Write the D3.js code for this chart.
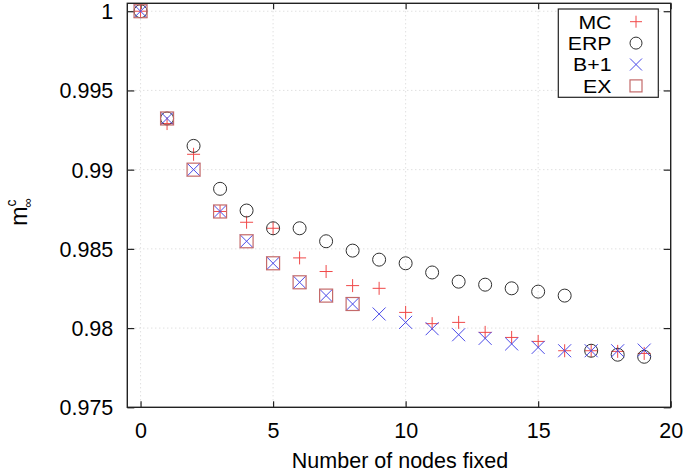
<!DOCTYPE html>
<html><head><meta charset="utf-8">
<script src="https://cdn.jsdelivr.net/npm/d3@7"></script>
<style>body{margin:0;background:#fff}svg{display:block}text{font-family:"Liberation Sans",Arial,sans-serif}</style>
</head><body><svg id="c" width="688" height="473"></svg>
<script>
const nodes = d3.range(0, 20);
const mc  = [1, 0.99291, 0.99097, 0.98736, 0.98668, 0.98630, 0.98443, 0.98357, 0.98268, 0.98251, 0.98099, 0.98028, 0.98036, 0.97973, 0.97941, 0.97916, 0.97857, 0.97857, 0.97853, 0.97840];
const erp = [1, 0.99323, 0.99150, 0.98879, 0.98742, 0.98630, 0.98630, 0.98548, 0.98489, 0.98432, 0.98409, 0.98351, 0.98293, 0.98274, 0.98251, 0.98230, 0.98205, 0.97857, 0.97832, 0.97819];
const b1  = [1, 0.99323, 0.99000, 0.98736, 0.98548, 0.98409, 0.98289, 0.98205, 0.98152, 0.98089, 0.98036, 0.97996, 0.97958, 0.97935, 0.97900, 0.97878, 0.97857, 0.97857, 0.97857, 0.97861];
const ex  = [1, 0.99323, 0.99000, 0.98736, 0.98548, 0.98409, 0.98289, 0.98205, 0.98152];
const xTicks = [0, 5, 10, 15, 20];
const yTicks = [0.975, 0.98, 0.985, 0.99, 0.995, 1];
const yTickLabels = ["0.975", "0.98", "0.985", "0.99", "0.995", "1"];
const seriesNames = ["MC", "ERP", "B+1", "EX"];

const svg = d3.select("#c");
const FS = 21.5;
const L = 127.3, R = 670.7, T = 3.3, B = 407.3;
const x = d3.scaleLinear().domain([-0.5, 20]).range([L, R]);
const y = d3.scaleLinear().domain([0.975, 1.0005]).range([B, T]);

// grid
const g = svg.append("g");
g.selectAll(".gx").data(xTicks.filter(t => t > -0.5 && t < 20)).enter().append("line")
  .attr("x1", d => x(d)).attr("x2", d => x(d)).attr("y1", T).attr("y2", B)
  .attr("stroke", "#c8c8c8").attr("stroke-width", 0.8).attr("stroke-dasharray", "1,3");
g.selectAll(".gy").data(yTicks.filter(t => t > 0.975)).enter().append("line")
  .attr("y1", d => y(d)).attr("y2", d => y(d)).attr("x1", L).attr("x2", R)
  .attr("stroke", "#c8c8c8").attr("stroke-width", 0.8).attr("stroke-dasharray", "1,3");

// axes (inward ticks on all four sides)
const fmtY = d => yTickLabels[yTicks.indexOf(d)];
const ax = svg.append("g").attr("transform", `translate(0,${B})`)
  .call(d3.axisBottom(x).tickValues(xTicks).tickSizeInner(-6).tickSizeOuter(0).tickPadding(15));
const axT = svg.append("g").attr("transform", `translate(0,${T})`)
  .call(d3.axisTop(x).tickValues(xTicks).tickSizeInner(-6).tickSizeOuter(0).tickFormat(""));
const ay = svg.append("g").attr("transform", `translate(${L},0)`)
  .call(d3.axisLeft(y).tickValues(yTicks).tickFormat(fmtY).tickSizeInner(-7).tickSizeOuter(0).tickPadding(14));
const ayR = svg.append("g").attr("transform", `translate(${R},0)`)
  .call(d3.axisRight(y).tickValues(yTicks).tickSizeInner(-7).tickSizeOuter(0).tickFormat(""));
[ax, axT, ay, ayR].forEach(a => {
  a.select(".domain").remove();
  a.selectAll("line").attr("stroke", "#222").attr("stroke-width", 1.2);
  a.selectAll("text").attr("font-size", FS).attr("fill", "#000").attr("font-family", "Liberation Sans, Arial, sans-serif");
});
ay.selectAll("text").attr("dy", "0.35em");

svg.append("rect").attr("x", L).attr("y", T).attr("width", R - L).attr("height", B - T)
  .attr("fill", "none").attr("stroke", "#222").attr("stroke-width", 1.4);

// markers
const s = 6.5;
const cMC = "#f04848", cERP = "#303030", cB1 = "#4a4ae8", cEX = "#c46a6a";
function plus(sel, cx, cy, col, h) {
  sel.append("path").attr("d", `M${cx - h},${cy}H${cx + h}M${cx},${cy - h}V${cy + h}`).attr("stroke", col).attr("stroke-width", 1).attr("fill", "none");
}
function cross(sel, cx, cy, col, h) {
  sel.append("path").attr("d", `M${cx - h},${cy - h}L${cx + h},${cy + h}M${cx - h},${cy + h}L${cx + h},${cy - h}`).attr("stroke", col).attr("stroke-width", 1).attr("fill", "none");
}
function circ(sel, cx, cy, col, h) {
  sel.append("circle").attr("cx", cx).attr("cy", cy).attr("r", h).attr("stroke", col).attr("stroke-width", 1).attr("fill", "none");
}
function sq(sel, cx, cy, col, h) {
  sel.append("rect").attr("x", cx - h).attr("y", cy - h).attr("width", 2 * h).attr("height", 2 * h).attr("stroke", col).attr("stroke-width", 1.2).attr("fill", "none");
}
const m = svg.append("g");
mc.forEach((v, i) => plus(m, x(nodes[i]), y(v), cMC, s));
erp.forEach((v, i) => circ(m, x(nodes[i]), y(v), cERP, s));
b1.forEach((v, i) => cross(m, x(nodes[i]), y(v), cB1, s));
ex.forEach((v, i) => sq(m, x(nodes[i]), y(v), cEX, s));

// legend
const lg = svg.append("g");
lg.append("rect").attr("x", 558.3).attr("y", 9).attr("width", 100).attr("height", 88.3)
  .attr("fill", "#fff").attr("stroke", "#222").attr("stroke-width", 1.2);
const fns = [[plus, cMC], [circ, cERP], [cross, cB1], [sq, cEX]];
seriesNames.forEach((n, i) => {
  const cy = 21.7 + i * 21.4;
  lg.append("text").attr("x", 611.5).attr("y", cy).attr("dy", "0.36em").attr("text-anchor", "end")
    .attr("font-size", 19).attr("textLength", null).text(n)
    .attr("transform", `translate(611.5,0) scale(1.12,1) translate(-611.5,0)`);
  fns[i][0](lg, 636, cy, fns[i][1], 6);
});

// axis titles
svg.append("text").attr("x", (L + R) / 2 + 1).attr("y", 468).attr("text-anchor", "middle")
  .attr("font-size", FS).text("Number of nodes fixed");
const yl = svg.append("text").attr("transform", "translate(27,212) rotate(-90)")
  .attr("text-anchor", "middle").attr("font-size", 23);
yl.append("tspan").text("m");
yl.append("tspan").attr("font-size", 14).attr("dy", -11).text("c");
yl.append("tspan").attr("font-size", 13).attr("dx", -8).attr("dy", 16).text("∞");
</script></body></html>
